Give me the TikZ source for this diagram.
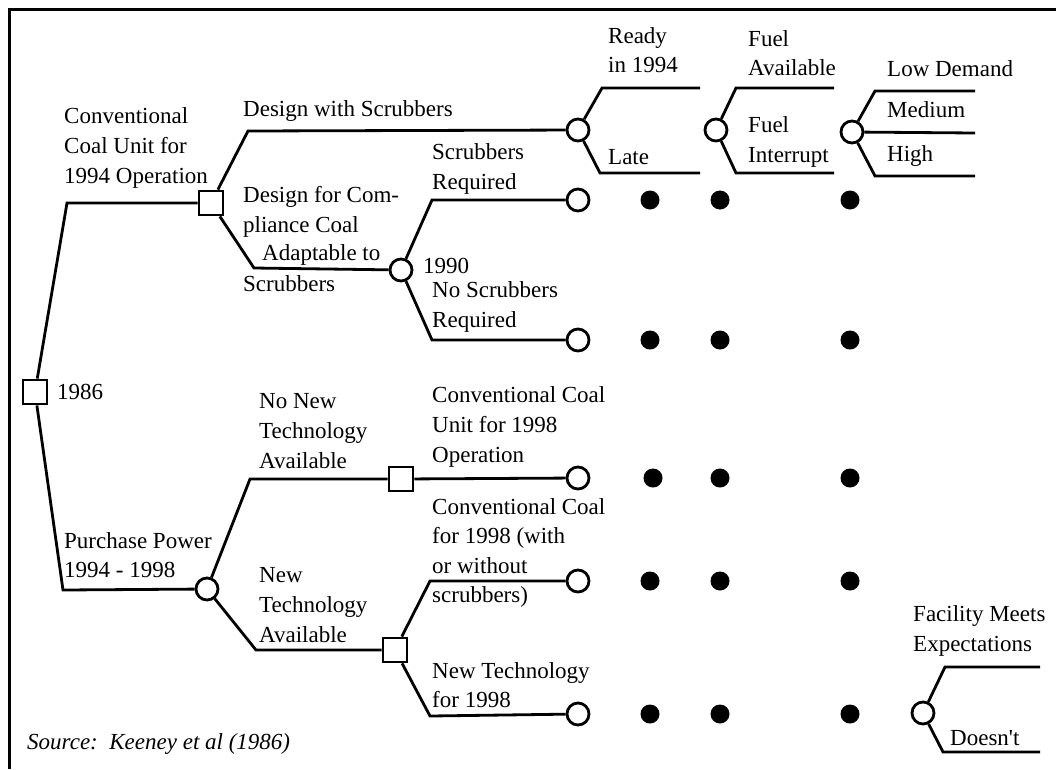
\documentclass[tikz,border=0pt]{standalone}
\usepackage{fontspec}
\setmainfont{Liberation Serif}
\begin{document}
\begin{tikzpicture}[x=1pt,y=-1pt,
  decision/.style={draw,fill=white,minimum size=24pt,inner sep=0pt,line width=2.8pt},
  chance/.style={draw,circle,fill=white,minimum size=22pt,inner sep=0pt,line width=2.8pt},
  dot/.style={circle,fill=black,minimum size=19pt,inner sep=0pt},
  lbl/.style={anchor=west,align=left,inner sep=0pt,font=\fontsize{23}{29.6}\selectfont},
  branch/.style={line width=2.8pt,line join=miter}]
\useasboundingbox (0,0) rectangle (1056,769);
% frame
\draw[line width=3pt] (9,769) -- (9,9) -- (1056,9);

% decision and chance nodes
\node[decision] (root) at (35,392) {};
\node[decision] (conv) at (211,203) {};
\node[chance] (ws) at (578,130) {};
\node[chance] (y1990) at (401,270) {};
\node[chance] (sr) at (578,200) {};
\node[chance] (nsr) at (578,340) {};
\node[chance] (fuel) at (716,130) {};
\node[chance] (dem) at (852,132) {};
\node[chance] (pp) at (207,589) {};
\node[decision] (nnt) at (401,479) {};
\node[chance] (cc98) at (578,478) {};
\node[decision] (nt) at (395,650) {};
\node[chance] (ccws) at (578,581) {};
\node[chance] (nt98) at (578,714) {};
\node[chance] (fac) at (923,713) {};

% continuation dots
\foreach \r/\y/\xa in {a/200/650, b/340/650, c/478/653, d/581/650, e/714/650}{
  \node[dot] (\r1) at (\xa,\y) {};
  \node[dot] (\r2) at (720,\y) {};
  \node[dot] (\r3) at (850,\y) {};
}

% branch end points
\coordinate (wsU) at (700,88);   \coordinate (wsL) at (700,173);
\coordinate (fuU) at (834,88);   \coordinate (fuL) at (834,173);
\coordinate (deU) at (975,91);   \coordinate (deM) at (975,133);
\coordinate (deL) at (975,176);
\coordinate (faU) at (1040,667); \coordinate (faL) at (1040,752);

% branches
\draw[branch] (root) -- (67,203) -- (conv);
\draw[branch] (root) -- (63,590) -- (pp);
\draw[branch] (conv) -- (248,131) -- (ws);
\draw[branch] (conv) -- (254,268) -- (y1990);
\draw[branch] (y1990) -- (432,200) -- (sr);
\draw[branch] (y1990) -- (432,340) -- (nsr);
\draw[branch] (ws) -- (602,88) -- (wsU);
\draw[branch] (ws) -- (600,173) -- (wsL);
\draw[branch] (fuel) -- (736,88) -- (fuU);
\draw[branch] (fuel) -- (736,173) -- (fuL);
\draw[branch] (dem) -- (875,91) -- (deU);
\draw[branch] (dem) -- (deM);
\draw[branch] (dem) -- (875,176) -- (deL);
\draw[branch] (pp) -- (250,479) -- (nnt) -- (cc98);
\draw[branch] (pp) -- (256,650) -- (nt);
\draw[branch] (nt) -- (430,581) -- (ccws);
\draw[branch] (nt) -- (430,716) -- (nt98);
\draw[branch] (fac) -- (945,667) -- (faU);
\draw[branch] (fac) -- (943,752) -- (faL);

% labels
\node[lbl] (l1986) at (57,392) {1986};
\node[lbl] (lconv) at (64,148) {Conventional\\Coal Unit for\\1994 Operation};
\node[lbl] (lws) at (243,111) {Design with Scrubbers};
\node[lbl] (ldc) at (243,212) {Design for Com-\\pliance Coal};
\node[lbl] (lad) at (262,255) {Adaptable to};
\node[lbl] (lscr) at (243,284) {Scrubbers};
\node[lbl] (l1990) at (423,266) {1990};
\node[lbl] (lsr) at (432,169) {Scrubbers\\Required};
\node[lbl] (lnsr) at (432,307) {No Scrubbers\\Required};
\node[lbl] (lready) at (608,50) {Ready\\in 1994};
\node[lbl] (llate) at (608,157) {Late};
\node[lbl] (lfa) at (748,53) {Fuel\\Available};
\node[lbl] (lfi) at (748,142) {Fuel\\Interrupt};
\node[lbl] (llow) at (887,69) {Low Demand};
\node[lbl] (lmed) at (887,110) {Medium};
\node[lbl] (lhigh) at (887,156) {High};
\node[lbl] (lnnt) at (259,431) {No New\\Technology\\Available};
\node[lbl] (lpp) at (64,555) {Purchase Power\\1994 - 1998};
\node[lbl] (lnt) at (259,605) {New\\Technology\\Available};
\node[lbl] (lcc98) at (432,427) {Conventional Coal\\Unit for 1998\\Operation};
\node[lbl] (lccws) at (432,553) {Conventional Coal\\for 1998 (with\\or without\\scrubbers)};
\node[lbl] (lnt98) at (432,685) {New Technology\\for 1998};
\node[lbl] (lfac) at (913,631) {Facility Meets\\Expectations};
\node[lbl] (ldoes) at (950,738) {Doesn\textquotesingle t};
\node[lbl,font=\fontsize{23}{29.6}\selectfont\itshape] (lsrc) at (27,744) {Source:\hspace{0.5em}Keeney et al (1986)};
\end{tikzpicture}
\end{document}
